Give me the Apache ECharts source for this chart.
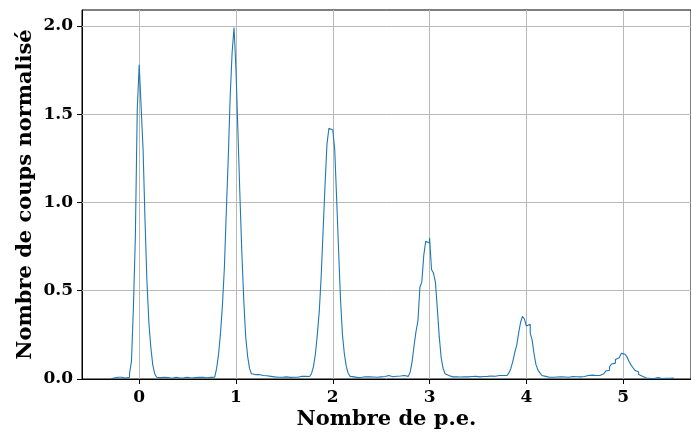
<!DOCTYPE html>
<html><head><meta charset="utf-8">
<script src="https://cdn.jsdelivr.net/npm/echarts@6/dist/echarts.min.js"></script>
<style>html,body{margin:0;padding:0;background:#fff}#c{width:691px;height:435px}</style>
</head><body><div id="c"></div>
<script>
// Histogram: bins of width 0.02 starting at -0.30 (p.e.)
const binWidth = 0.02;
const firstEdge = -0.30;

const leadIn   = [0, 0.005, 0.005, 0.01, 0.005, 0.01, 0.005, 0.005, 0.01];
const peak0    = [0.01, 0.03, 0.10, 0.40, 0.80, 1.53, 1.78, 1.54, 1.30, 0.90, 0.55, 0.32, 0.18, 0.08, 0.03, 0.01];
const valley01 = [0.008,0.006,0.01,0.005,0.008,0.006,0.004,0.008,0.01,0.006,0.005,0.009,0.007,0.006,0.01,0.012,0.006,0.005,0.008,0.007,0.009,0.006,0.01,0.008,0.007,0.012,0.009,0.01];
const peak1    = [0.01, 0.02, 0.06, 0.14, 0.26, 0.42, 0.63, 0.95, 1.25, 1.60, 1.85, 1.99, 1.75, 1.40, 1.05, 0.72, 0.45, 0.24, 0.13, 0.06, 0.03, 0.025];
const valley12 = [0.03,0.025,0.03,0.02,0.025,0.018,0.02,0.015,0.018,0.012,0.015,0.01,0.012,0.01,0.008,0.012,0.01,0.009,0.012,0.01,0.014,0.01,0.012,0.016,0.012,0.015,0.013,0.014];
const peak2    = [0.015, 0.03, 0.07, 0.14, 0.25, 0.38, 0.58, 0.84, 1.10, 1.33, 1.42, 1.41, 1.42, 1.30, 1.02, 0.73, 0.45, 0.25, 0.14, 0.07, 0.03, 0.015];
const valley23 = [0.012,0.01,0.008,0.012,0.01,0.009,0.013,0.01,0.012,0.015,0.011,0.014,0.01,0.016,0.012,0.018,0.014,0.012,0.02,0.015,0.013,0.018,0.016,0.02,0.017,0.022,0.02,0.025];
const peak3    = [0.015, 0.02, 0.04, 0.10, 0.19, 0.27, 0.33, 0.52, 0.55, 0.70, 0.78, 0.77, 0.80, 0.62, 0.60, 0.55, 0.40, 0.24, 0.12, 0.06, 0.03, 0.02];
const valley34 = [0.015,0.012,0.01,0.012,0.009,0.011,0.01,0.013,0.01,0.012,0.011,0.014,0.012,0.015,0.013,0.012,0.016,0.014,0.018,0.015,0.02,0.017,0.019,0.016,0.022,0.02,0.025,0.02,0.022];
const peak4    = [0.02, 0.025, 0.035, 0.06, 0.10, 0.15, 0.19, 0.26, 0.32, 0.355, 0.34, 0.30, 0.31, 0.26, 0.22, 0.14, 0.08, 0.05, 0.035, 0.02, 0.015];
const valley45 = [0.012,0.01,0.008,0.01,0.009,0.011,0.01,0.012,0.009,0.011,0.013,0.01,0.012,0.014,0.011,0.013,0.015,0.012,0.016,0.014,0.018,0.02,0.016,0.022,0.025];
const peak5    = [0.02, 0.025, 0.02, 0.03, 0.03, 0.035, 0.045, 0.05, 0.07, 0.085, 0.09, 0.11, 0.12, 0.13, 0.145, 0.14, 0.145, 0.125, 0.10, 0.08, 0.065, 0.05, 0.04, 0.025, 0.015, 0.01];
const tail     = [0.006,0.005,0.004,0.006,0.003,0.005,0.008,0.004,0.003,0.005,0.004,0.007,0.004,0.003,0.005];

const xTicks = [0, 1, 2, 3, 4, 5];
const yTicks = [0, 0.5, 1, 1.5, 2];

const counts = [].concat(leadIn, peak0, valley01, peak1, valley12, peak2, valley23, peak3, valley34, peak4, valley45, peak5, tail);
const edge = i => +(firstEdge + i * binWidth).toFixed(4);
const pts = [[edge(0), 0]];
counts.forEach((v, i) => { pts.push([edge(i), v], [edge(i + 1), v]); });
pts.push([edge(counts.length), 0]);

const font = { fontFamily: 'DejaVu Serif', fontWeight: 'bold', color: '#000' };
const gridLines = [].concat(
  xTicks.map(v => ({ xAxis: v })),
  yTicks.filter(v => v > 0).map(v => ({ yAxis: v }))
);
const chart = echarts.init(document.getElementById('c'), null, { renderer: 'canvas' });
chart.setOption({
  animation: false,
  backgroundColor: '#fff',
  grid: { left: 82, top: 10, width: 610, height: 369, show: true, borderColor: '#000', borderWidth: 1, backgroundColor: 'transparent' },
  xAxis: {
    type: 'value', min: -0.591, max: 5.701,
    axisLine: { show: true, onZero: false, lineStyle: { color: '#000', width: 1 } },
    axisTick: { show: true, customValues: xTicks, length: 5, lineStyle: { color: '#000' } },
    axisLabel: Object.assign({ customValues: xTicks, fontSize: 17, margin: 10, formatter: v => String(v) }, font),
    splitLine: { show: false },
    name: 'Nombre de p.e.', nameLocation: 'middle', nameGap: 30, nameMoveOverlap: false,
    nameTextStyle: Object.assign({ fontSize: 21 }, font)
  },
  yAxis: {
    type: 'value', min: 0, max: 2.09,
    axisLine: { show: true, onZero: false, lineStyle: { color: '#000', width: 1 } },
    axisTick: { show: true, customValues: yTicks, length: 5, lineStyle: { color: '#000' } },
    axisLabel: Object.assign({ customValues: yTicks, fontSize: 17, margin: 9, formatter: v => v.toFixed(1) }, font),
    splitLine: { show: false },
    name: 'Nombre de coups normalisé', nameLocation: 'middle', nameGap: 46, nameMoveOverlap: false,
    nameTextStyle: Object.assign({ fontSize: 21 }, font)
  },
  series: [{
    type: 'line', data: [], symbol: 'none', z: 1, silent: true,
    markLine: {
      silent: true, symbol: ['none', 'none'], label: { show: false },
      lineStyle: { type: 'solid', color: '#b8b8b8', width: 1 },
      emphasis: { disabled: true },
      data: gridLines
    }
  }, {
    type: 'line', data: pts, symbol: 'none', showSymbol: false,
    lineStyle: { color: '#1f77b4', width: 1.1 }, z: 5
  }]
});
</script></body></html>
